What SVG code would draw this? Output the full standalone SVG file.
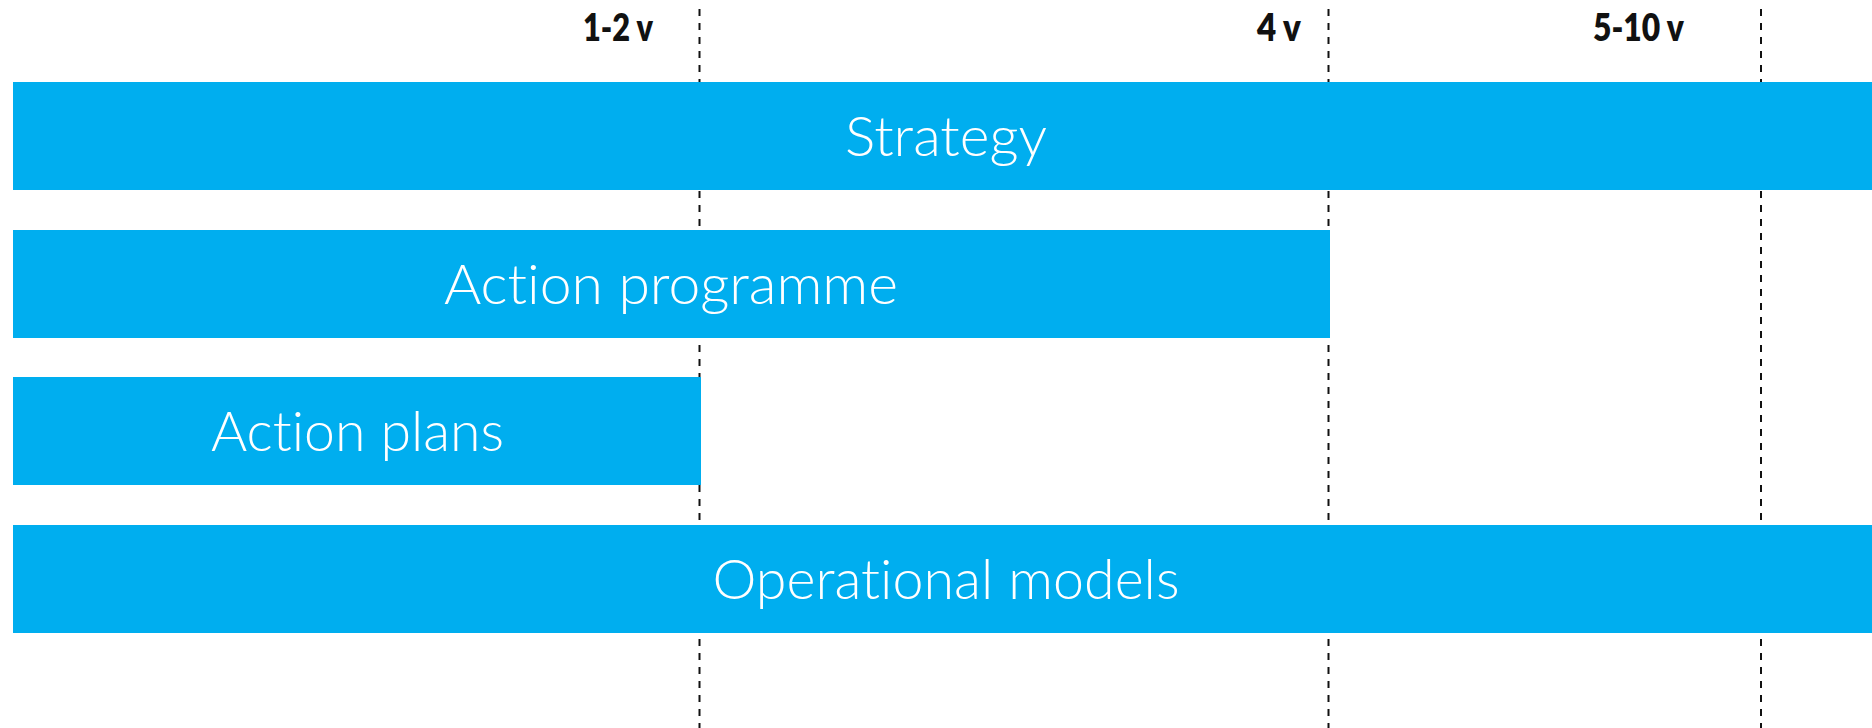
<svg xmlns="http://www.w3.org/2000/svg" width="1872" height="728" viewBox="0 0 1872 728">
<style>
.bar{fill:#00AEEF}
.lbl{fill:#fff;font-family:Lato,"Open Sans","Liberation Sans",sans-serif;font-weight:300;font-size:55px;text-anchor:middle;font-variant-ligatures:none;font-feature-settings:"liga" 0,"dlig" 0}
.tick{fill:#111;font-family:Lato,"Liberation Sans",sans-serif;font-weight:800;font-size:37px;font-variant-ligatures:none}
.grid{stroke:#111;stroke-width:2;stroke-dasharray:7 7;fill:none}
</style>
<rect width="1872" height="728" fill="#fff"/>
<g id="connectors">
<line class="grid" x1="699.5" y1="9" x2="699.5" y2="728"/>
<line class="grid" x1="1328.5" y1="9" x2="1328.5" y2="728"/>
<line class="grid" x1="1761" y1="9" x2="1761" y2="728"/>
</g>
<g id="labels">
<text class="tick" x="583" y="41" textLength="70" lengthAdjust="spacingAndGlyphs">1-2 v</text>
<text class="tick" x="1257" y="41" textLength="44" lengthAdjust="spacingAndGlyphs">4 v</text>
<text class="tick" x="1593" y="41" textLength="91" lengthAdjust="spacingAndGlyphs">5-10 v</text>
</g>
<g id="strategy">
<rect class="bar" x="13" y="82" width="1859" height="108"/>
<text class="lbl" x="946" y="156" textLength="202" lengthAdjust="spacingAndGlyphs">Strategy</text>
</g>
<g id="action-programme">
<rect class="bar" x="13" y="230" width="1317" height="108"/>
<text class="lbl" x="671" y="304" textLength="454" lengthAdjust="spacingAndGlyphs">Action programme</text>
</g>
<g id="action-plans">
<rect class="bar" x="13" y="377" width="688" height="108"/>
<text class="lbl" x="357.5" y="451" textLength="293" lengthAdjust="spacingAndGlyphs">Action plans</text>
</g>
<g id="operational-models">
<rect class="bar" x="13" y="525" width="1859" height="108"/>
<text class="lbl" x="946" y="599" textLength="467" lengthAdjust="spacingAndGlyphs">Operational models</text>
</g>
</svg>
